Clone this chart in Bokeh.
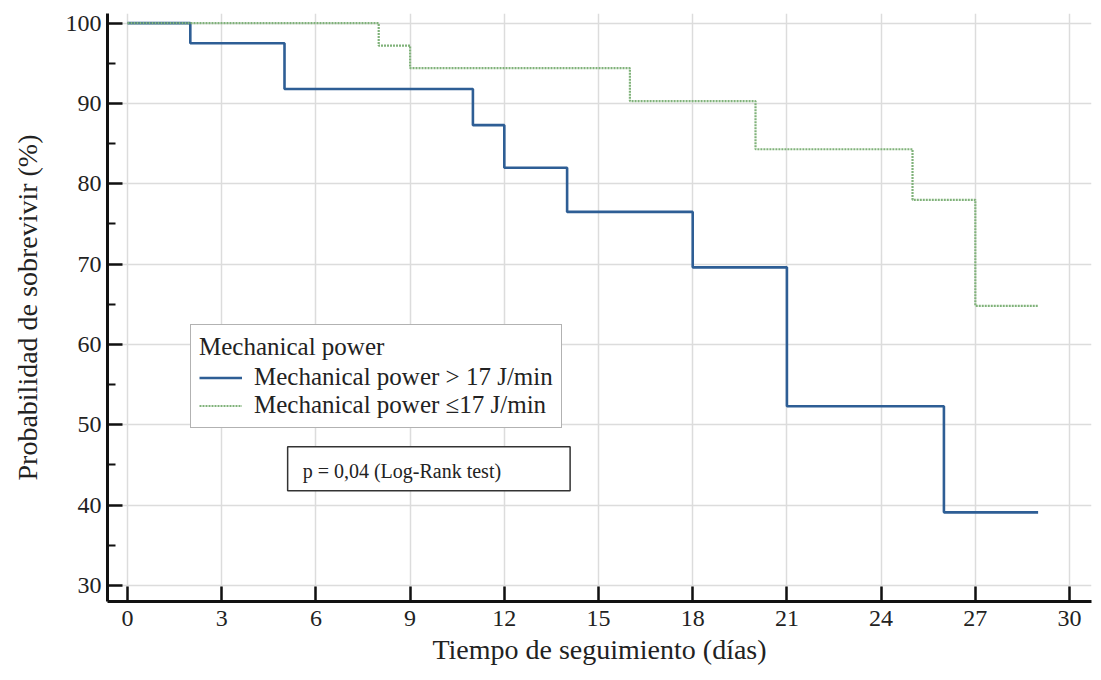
from bokeh.plotting import figure
from bokeh.models import FixedTicker, Legend, LegendItem, Label, Range1d
from bokeh.embed import file_html
from bokeh.resources import INLINE

# Kaplan-Meier data
high_days = [0, 2, 5, 11, 12, 14, 18, 21, 26, 29]
high_surv = [100, 97.5, 91.8, 87.3, 82.0, 76.5, 69.6, 52.3, 39.1, 39.1]
low_days = [0, 8, 9, 16, 20, 25, 27, 29]
low_surv = [100, 97.2, 94.4, 90.3, 84.3, 78.0, 64.8, 64.8]

x_ticks = [0, 3, 6, 9, 12, 15, 18, 21, 24, 27, 30]
y_ticks = [30, 40, 50, 60, 70, 80, 90, 100]
y_minor = [35, 45, 55, 65, 75, 85, 95]

legend_title = "Mechanical power"
label_high = "Mechanical power > 17 J/min"
label_low = "Mechanical power \u226417 J/min"
p_text = "p = 0,04 (Log-Rank test)"
x_label = "Tiempo de seguimiento (d\u00edas)"
y_label = "Probabilidad de sobrevivir (%)"

FONT = "Liberation Serif"

p = figure(width=1093, height=679, output_backend="svg", toolbar_location=None,
           x_range=Range1d(-0.637, 30.7), y_range=Range1d(28.0, 101.2),
           min_border_left=107, min_border_right=2, min_border_top=13, min_border_bottom=78)
p.outline_line_color = None
p.background_fill_color = "white"

r_high = p.step(high_days, high_surv, mode="after", line_color="#2e5e95", line_width=2.6)
r_low = p.step(low_days, low_surv, mode="after", line_color="#80b27a", line_width=2.2,
               line_dash="2 1")

for ax in (p.xaxis[0], p.yaxis[0]):
    ax.axis_line_width = 3
    ax.axis_line_color = "#111111"
    ax.major_tick_in = 15
    ax.major_tick_out = 0
    ax.major_tick_line_width = 2.5
    ax.major_tick_line_color = "#111111"
    ax.major_label_text_font = FONT
    ax.major_label_text_font_size = "24px"
    ax.major_label_text_color = "#222222"
    ax.axis_label_text_font = FONT
    ax.axis_label_text_font_size = "28px"
    ax.axis_label_text_font_style = "normal"
    ax.axis_label_text_color = "#222222"

p.xaxis[0].ticker = FixedTicker(ticks=x_ticks)
p.xaxis[0].minor_tick_line_color = None
p.xaxis[0].major_label_standoff = 9
p.xaxis[0].axis_label_standoff = 5
p.xaxis[0].axis_label = x_label

p.yaxis[0].ticker = FixedTicker(ticks=y_ticks, minor_ticks=y_minor)
p.yaxis[0].minor_tick_in = 8
p.yaxis[0].minor_tick_out = 0
p.yaxis[0].minor_tick_line_width = 2
p.yaxis[0].minor_tick_line_color = "#111111"
p.yaxis[0].major_label_standoff = 6
p.yaxis[0].axis_label_standoff = 20
p.yaxis[0].axis_label = y_label

p.xgrid.grid_line_color = "#dcdcdc"
p.ygrid.grid_line_color = "#dcdcdc"
p.xgrid.grid_line_width = 1.5
p.ygrid.grid_line_width = 1.5

legend = Legend(items=[LegendItem(label=label_high, renderers=[r_high]),
                       LegendItem(label=label_low, renderers=[r_low])],
                location=(83, 173), title=legend_title,
                title_text_font=FONT, title_text_font_size="25px", title_text_font_style="normal",
                title_text_color="#222222", title_standoff=2,
                label_text_font=FONT, label_text_font_size="25px", label_text_color="#222222",
                label_height=23, glyph_height=23, glyph_width=43, label_standoff=12,
                padding=8, spacing=-3, margin=0,
                border_line_color="#666666", border_line_width=1.5,
                background_fill_color="white", background_fill_alpha=1.0)
p.add_layout(legend)

lab = Label(x=5.1, y=41.8, text=p_text, text_font=FONT, text_font_size="20px",
            text_color="#222222", text_align="left", text_baseline="bottom",
            border_line_color="#333333", border_line_width=1.5,
            background_fill_color="white", background_fill_alpha=1.0,
            padding=dict(left=15, right=69, top=13, bottom=9))
p.add_layout(lab)

open("out.html", "w").write(file_html(p, INLINE))
